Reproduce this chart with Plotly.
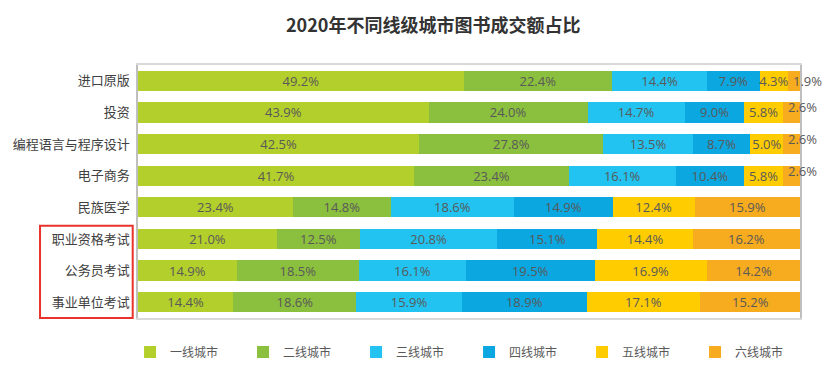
import plotly.graph_objects as go

categories = ["进口原版", "投资", "编程语言与程序设计", "电子商务", "民族医学", "职业资格考试", "公务员考试", "事业单位考试"]
series_names = ["一线城市", "二线城市", "三线城市", "四线城市", "五线城市", "六线城市"]
tier1 = [49.2, 43.9, 42.5, 41.7, 23.4, 21.0, 14.9, 14.4]
tier2 = [22.4, 24.0, 27.8, 23.4, 14.8, 12.5, 18.5, 18.6]
tier3 = [14.4, 14.7, 13.5, 16.1, 18.6, 20.8, 16.1, 15.9]
tier4 = [7.9, 9.0, 8.7, 10.4, 14.9, 15.1, 19.5, 18.9]
tier5 = [4.3, 5.8, 5.0, 5.8, 12.4, 14.4, 16.9, 17.1]
tier6 = [1.9, 2.6, 2.6, 2.6, 15.9, 16.2, 14.2, 15.2]
colors = ["#B3CF2B", "#8BBF3E", "#22C3F0", "#0BA7E1", "#FFCC00", "#F7AB1E"]

series = [tier1, tier2, tier3, tier4, tier5, tier6]
SMALL = 3.0

fig = go.Figure()
for i, (name, vals) in enumerate(zip(series_names, series)):
    texts = [("" if v < SMALL else f"{v:.1f}%") for v in vals]
    fig.add_trace(go.Bar(
        y=categories, x=vals, name=name, orientation="h",
        marker=dict(color=colors[i], line=dict(width=0)),
        text=texts,
        textposition="inside",
        insidetextanchor="middle",
        constraintext="none",
        textangle=0,
        textfont=dict(size=13, color="#595959", family="Open Sans, Noto Sans CJK SC"),
        hoverinfo="skip",
    ))

# labels of small last segments, placed at the bar end
annotations = []
for j, cat in enumerate(categories):
    v = tier6[j]
    if v < SMALL:
        total = min(sum(s[j] for s in series), 100.0)
        annotations.append(dict(
            x=total, y=cat, xref="x", yref="y", text=f"{v:.1f}%", showarrow=False,
            xanchor="left", xshift=(-9 if j == 0 else -14), yshift=(0 if j == 0 else 5),
            font=dict(size=13, color="#595959", family="Open Sans, Noto Sans CJK SC"),
        ))

fig.update_layout(
    width=832, height=366,
    barmode="stack",
    bargap=0.36,
    margin=dict(l=130, r=40, t=57, b=56, autoexpand=False),
    paper_bgcolor="white",
    plot_bgcolor="white",
    font=dict(family="Noto Sans CJK SC, Noto Sans", color="#404040", size=12),
    title=dict(text="<b>2020年不同线级城市图书成交额占比</b>", x=0.511, xanchor="center",
               yref="container", y=0.952, yanchor="middle", font=dict(size=18, color="#333333")),
    showlegend=True,
    legend=dict(orientation="h", x=-0.012, xanchor="left",
                y=-0.134, yanchor="middle",
                font=dict(size=12, color="#595959"), traceorder="normal",
                itemwidth=30, entrywidth=68),
    xaxis=dict(range=[0, 100], showgrid=False, showticklabels=False, zeroline=False,
               showline=True, linecolor="#D9D9D9", linewidth=1.5, mirror=True, ticks="",
               automargin=False),
    yaxis=dict(autorange="reversed", showgrid=False, showline=True, linecolor="#BFBFBF",
               linewidth=1.5, mirror=True, ticks="", ticklabelstandoff=4, automargin=False,
               tickfont=dict(size=13, color="#404040")),
    annotations=annotations,
    shapes=[dict(type="rect", xref="paper", yref="paper", x0=-0.148, x1=-0.008,
                 y0=0.0, y1=0.365, line=dict(color="#E8322B", width=2))],
)

fig.write_html("out.html")
